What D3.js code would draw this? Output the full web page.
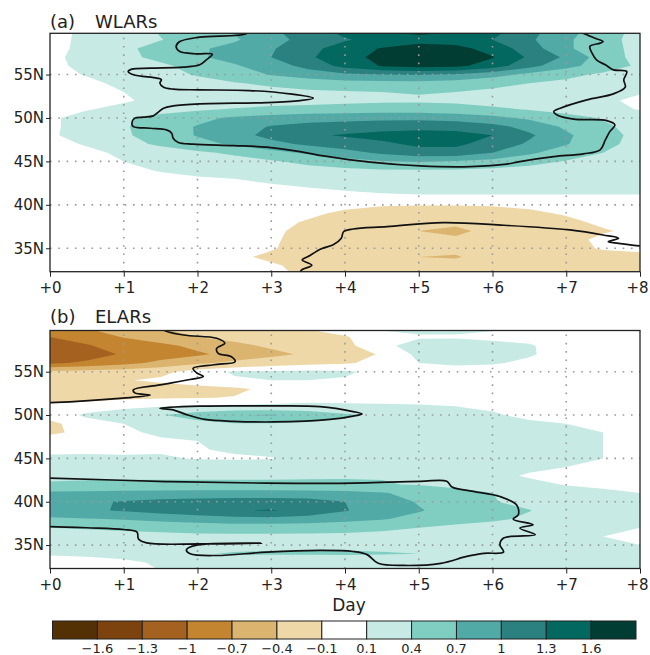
<!DOCTYPE html>
<html><head><meta charset="utf-8">
<script src="https://cdn.jsdelivr.net/npm/d3@7"></script>
<style>
body{margin:0;background:#fff;}
text{font-family:"DejaVu Sans",sans-serif;fill:#222;}
</style>
</head><body>
<svg id="c" width="650" height="655"></svg>
<script>
// ---------------- data ----------------
const days = [0,0.5,1,1.5,2,2.5,3,3.5,4,4.5,5,5.5,6,6.5,7,7.5,8];
const lats = [60,59,58,57,56,55,54,53,52,51,50,49,48,47,46,45,44,43,42,41,40,39,38,37,36,35,34,33,32];

// (a) WLARs composite anomaly, rows = lats, cols = days
const wlars = [
[0.02,0.15,0.28,0.42,0.55,0.72,0.95,1.15,1.4,1.6,1.68,1.62,1.4,1.1,0.8,0.55,0.3],
[0.02,0.16,0.28,0.39,0.52,0.66,0.9,1.1,1.27,1.42,1.5,1.45,1.3,1.05,0.75,0.5,0.3],
[0.02,0.17,0.33,0.52,0.65,0.8,0.97,1.2,1.45,1.62,1.72,1.7,1.48,1.15,0.75,0.5,0.32],
[0.02,0.22,0.33,0.47,0.66,0.8,1.0,1.25,1.5,1.68,1.78,1.75,1.62,1.25,0.95,0.55,0.3],
[0.02,0.18,0.25,0.35,0.5,0.67,0.85,1.1,1.4,1.62,1.7,1.68,1.45,1.1,0.8,0.55,0.35],
[0.0,0.12,0.22,0.32,0.42,0.55,0.72,0.85,0.95,1.0,1.02,0.97,0.82,0.62,0.48,0.35,0.25],
[0.0,0.03,0.17,0.25,0.32,0.38,0.45,0.52,0.58,0.6,0.6,0.55,0.48,0.4,0.33,0.27,0.2],
[0.0,0.02,0.1,0.2,0.26,0.3,0.33,0.36,0.38,0.4,0.42,0.4,0.35,0.3,0.25,0.18,0.12],
[0.0,0.02,0.07,0.17,0.22,0.26,0.28,0.3,0.33,0.35,0.36,0.35,0.3,0.26,0.2,0.14,0.05],
[0.0,0.08,0.18,0.28,0.36,0.42,0.47,0.5,0.53,0.55,0.55,0.5,0.45,0.38,0.3,0.2,0.08],
[0.05,0.22,0.36,0.5,0.62,0.75,0.82,0.88,0.9,0.92,0.92,0.88,0.78,0.65,0.5,0.38,0.3],
[0.05,0.22,0.37,0.55,0.72,0.88,1.02,1.1,1.15,1.2,1.22,1.2,1.1,0.9,0.65,0.45,0.3],
[0.06,0.22,0.36,0.53,0.72,0.9,1.08,1.25,1.33,1.38,1.42,1.4,1.3,1.05,0.75,0.5,0.32],
[0.03,0.12,0.3,0.45,0.6,0.75,0.92,1.05,1.15,1.25,1.35,1.35,1.2,0.95,0.72,0.48,0.3],
[0.0,0.05,0.14,0.25,0.35,0.45,0.6,0.75,0.9,1.05,1.2,1.2,1.0,0.75,0.55,0.4,0.3],
[0.0,0.02,0.1,0.17,0.24,0.3,0.37,0.47,0.57,0.68,0.72,0.68,0.6,0.5,0.38,0.3,0.25],
[0.0,0.0,0.04,0.12,0.18,0.22,0.27,0.31,0.35,0.38,0.39,0.38,0.35,0.3,0.26,0.23,0.2],
[0.0,0.0,0.0,0.03,0.07,0.1,0.14,0.18,0.22,0.24,0.25,0.24,0.22,0.21,0.2,0.2,0.2],
[0.0,0.0,0.0,0.0,0.02,0.04,0.07,0.1,0.13,0.16,0.18,0.18,0.18,0.18,0.18,0.18,0.18],
[0.0,0.0,0.0,0.0,0.0,0.0,0.0,0.02,0.05,0.07,0.08,0.08,0.08,0.08,0.08,0.08,0.08],
[0.0,0.0,0.0,0.0,0.0,0.0,0.0,-0.02,-0.05,-0.08,-0.09,-0.09,-0.08,-0.06,-0.04,-0.02,0.0],
[0,0,0,0,0,0,-0.02,-0.06,-0.14,-0.2,-0.24,-0.24,-0.2,-0.14,-0.08,-0.04,-0.02],
[0,0,0,0,0,0,-0.04,-0.12,-0.25,-0.32,-0.37,-0.37,-0.32,-0.24,-0.15,-0.06,-0.03],
[0,0,0,0,0,-0.02,-0.06,-0.16,-0.3,-0.36,-0.4,-0.43,-0.36,-0.28,-0.2,-0.12,-0.05],
[0,0,0,0,0,-0.02,-0.07,-0.18,-0.3,-0.35,-0.38,-0.38,-0.33,-0.25,-0.16,-0.06,-0.02],
[0,0,0,0,0,-0.03,-0.08,-0.2,-0.3,-0.35,-0.37,-0.37,-0.32,-0.25,-0.17,-0.08,-0.05],
[0,0,0,0,0,-0.05,-0.15,-0.25,-0.32,-0.36,-0.4,-0.41,-0.35,-0.28,-0.22,-0.18,-0.16],
[0,0,0,0,0,-0.02,-0.07,-0.17,-0.27,-0.32,-0.35,-0.35,-0.3,-0.25,-0.2,-0.15,-0.12],
[0,0,0,0,0,0,-0.05,-0.14,-0.24,-0.3,-0.33,-0.33,-0.28,-0.22,-0.17,-0.12,-0.1]
];

// (b) ELARs composite anomaly
const elars = [
[-0.75,-0.7,-0.55,-0.4,-0.28,-0.18,-0.14,-0.09,0.02,0.12,0.15,0.15,0.12,0.06,0.0,0.0,0.0],
[-1.0,-0.9,-0.68,-0.52,-0.4,-0.3,-0.22,-0.16,-0.12,0.04,0.08,0.08,0.06,0.03,0.0,0.0,0.0],
[-1.15,-1.02,-0.9,-0.78,-0.62,-0.48,-0.35,-0.25,-0.16,0.05,0.18,0.2,0.15,0.12,0.0,0.0,0.0],
[-1.2,-1.12,-0.97,-0.85,-0.75,-0.6,-0.48,-0.35,-0.2,-0.08,0.15,0.2,0.17,0.12,0.02,0.0,0.0],
[-1.05,-0.95,-0.8,-0.62,-0.45,-0.33,-0.22,-0.16,-0.12,-0.05,0.1,0.14,0.12,0.06,0.0,0.0,0.0],
[-0.35,-0.3,-0.25,-0.18,0.02,0.12,0.13,0.14,0.13,0.04,0.0,0.0,0.0,0.0,0.0,0.0,0.0],
[-0.3,-0.22,-0.12,-0.05,0.04,0.08,0.1,0.1,0.08,0.02,0,0,0,0,0,0,0],
[-0.35,-0.32,-0.28,-0.24,-0.2,-0.14,-0.05,-0.02,0,0,0,0,0,0,0,0,0],
[-0.2,-0.18,-0.14,-0.12,-0.11,-0.09,-0.04,0.03,0.03,0.03,0.03,0.02,0,0,0,0,0],
[-0.05,0.0,0.04,0.09,0.12,0.14,0.15,0.15,0.14,0.13,0.12,0.1,0.07,0.04,0.02,0.0,0.0],
[0.0,0.13,0.24,0.38,0.55,0.69,0.72,0.62,0.45,0.33,0.28,0.2,0.12,0.06,0.02,0.0,0.0],
[-0.16,0.03,0.1,0.18,0.3,0.38,0.38,0.35,0.3,0.25,0.22,0.18,0.15,0.13,0.1,0.05,0.02],
[-0.14,-0.04,0.05,0.15,0.25,0.32,0.35,0.35,0.33,0.28,0.25,0.22,0.18,0.15,0.12,0.1,0.05],
[0.0,0.02,0.04,0.06,0.1,0.15,0.2,0.22,0.22,0.2,0.2,0.18,0.16,0.14,0.12,0.1,0.05],
[0.05,0.06,0.06,0.08,0.09,0.12,0.15,0.18,0.2,0.2,0.2,0.18,0.16,0.14,0.12,0.1,0.05],
[0.14,0.14,0.13,0.12,0.09,0.08,0.09,0.15,0.2,0.22,0.22,0.2,0.18,0.15,0.12,0.1,0.04],
[0.18,0.2,0.2,0.2,0.2,0.2,0.22,0.25,0.28,0.3,0.3,0.27,0.2,0.14,0.1,0.05,0.02],
[0.3,0.32,0.33,0.33,0.33,0.33,0.33,0.35,0.37,0.38,0.35,0.25,0.15,0.08,0.05,0.04,0.04],
[0.45,0.47,0.48,0.48,0.48,0.48,0.48,0.47,0.45,0.42,0.38,0.32,0.22,0.15,0.09,0.08,0.08],
[0.75,0.76,0.78,0.79,0.8,0.8,0.8,0.8,0.78,0.72,0.62,0.5,0.4,0.28,0.17,0.12,0.1],
[0.92,0.95,1.02,1.08,1.12,1.15,1.15,1.12,1.0,0.82,0.68,0.55,0.42,0.3,0.2,0.15,0.12],
[0.9,0.95,1.03,1.12,1.2,1.28,1.32,1.2,1.02,0.85,0.72,0.6,0.5,0.41,0.25,0.15,0.12],
[0.65,0.68,0.72,0.78,0.85,0.9,0.92,0.88,0.8,0.72,0.62,0.52,0.45,0.35,0.2,0.15,0.12],
[0.4,0.42,0.45,0.48,0.5,0.52,0.52,0.5,0.48,0.45,0.4,0.33,0.27,0.2,0.15,0.12,0.1],
[0.28,0.3,0.32,0.33,0.35,0.35,0.35,0.35,0.35,0.33,0.3,0.26,0.22,0.18,0.14,0.1,0.05],
[0.22,0.22,0.25,0.27,0.3,0.32,0.34,0.35,0.35,0.33,0.3,0.26,0.22,0.18,0.15,0.12,0.1],
[0.12,0.13,0.15,0.2,0.38,0.42,0.43,0.43,0.43,0.42,0.4,0.32,0.25,0.2,0.16,0.13,0.1],
[0.02,0.04,0.07,0.12,0.15,0.17,0.18,0.19,0.2,0.2,0.2,0.18,0.17,0.15,0.13,0.12,0.1],
[0.0,0.02,0.05,0.1,0.13,0.15,0.16,0.17,0.18,0.18,0.18,0.17,0.16,0.14,0.13,0.12,0.1]
];

// significance contours, [day, lat]
const sigA1 = [[2.67,60.3],[2.67,59.77],[2.03,59.31],[1.76,58.8],[1.71,58.23],[1.76,57.65],[1.99,57.39],[2.2,57.35],[2.12,56.69],[2.03,56.12],[1.81,55.85],[1.36,55.73],[1.11,55.62],[1.06,55.35],[1.13,54.97],[1.45,54.59],[1.51,54.42],[1.49,54.01],[1.54,53.55],[1.67,53.32],[2.03,53.24],[2.71,53.16],[3.25,52.78],[3.57,52.28],[3.39,52.0],[2.94,51.77],[2.03,51.62],[1.67,51.39],[1.54,51.13],[1.45,50.55],[1.4,50.24],[1.27,50.09],[1.15,49.98],[1.11,49.4],[1.13,49.01],[1.36,48.82],[1.58,48.63],[1.65,48.25],[1.67,47.67],[1.74,47.17],[1.94,46.98],[2.49,46.82],[2.94,46.64],[3.39,46.13],[3.73,45.6],[4.34,44.91],[5.02,44.48],[5.7,44.4],[6.19,44.68],[6.37,44.98],[6.83,45.55],[7.23,45.86],[7.46,46.33],[7.53,47.48],[7.59,48.43],[7.66,49.2],[7.55,49.7],[7.1,49.86],[6.87,50.36],[6.83,50.74],[6.92,51.13],[7.28,52.09],[7.64,52.78],[7.8,53.55],[7.78,54.39],[7.82,55.35],[7.64,55.54],[7.53,56.12],[7.41,56.69],[7.35,57.46],[7.32,58.23],[7.46,58.62],[7.5,58.8],[7.39,59.19],[7.23,59.77],[7.1,60.3]];
const sigA2 = [[3.4,31.6],[3.4,32.4],[3.55,33.05],[3.42,33.65],[3.5,34.05],[3.68,34.95],[3.84,35.4],[3.95,36.15],[3.98,36.9],[4.11,37.22],[4.57,37.49],[5.33,37.95],[6.15,37.65],[7.05,37.11],[7.5,36.53],[7.71,36.15],[7.57,35.76],[7.71,35.57],[8.0,35.27],[8.3,35.2]];
const sigB1 = [[-0.2,51.38],[0,51.42],[0.99,51.95],[1.36,52.3],[1.15,52.55],[1.13,52.9],[1.49,53.47],[1.9,54.1],[2.08,54.45],[1.99,54.85],[1.94,55.39],[2.22,55.8],[2.51,56.15],[2.46,56.73],[2.28,57.12],[2.26,57.69],[2.37,58.27],[2.26,58.85],[1.81,59.23],[1.54,59.8],[1.5,60.3]];
const sigB2 = [[1.49,50.78],[1.67,50.6],[1.85,50.05],[2.1,49.5],[2.49,49.28],[3.03,49.2],[3.8,49.5],[4.11,49.88],[4.23,50.13],[4.11,50.4],[3.66,50.97],[2.94,51.05],[2.03,51.03]];
const sigB3 = [[-0.2,42.72],[0,42.72],[1.58,42.33],[2.94,42.14],[3.93,42.12],[5.02,42.35],[5.38,42.37],[5.45,41.7],[5.74,41.2],[6.1,40.6],[6.33,39.6],[6.35,38.5],[6.28,38.0],[6.55,37.35],[6.37,36.96],[6.58,36.2],[6.15,35.81],[6.1,35.04],[6.15,34.2],[5.88,34.05],[5.65,33.69],[5.3,32.9],[4.8,32.65],[4.45,32.9],[4.3,33.9],[4.11,34.26],[3.66,34.38],[2.94,34.19],[2.26,33.8],[1.9,34.0],[1.85,34.46],[1.99,35.0],[2.87,35.23],[2.03,35.13],[1.31,35.25],[1.2,35.7],[1.18,36.5],[1.0,36.8],[0.5,37.0],[0,37.14],[-0.2,37.15]];

const levels = [-1.6,-1.3,-1,-0.7,-0.4,-0.1,0.1,0.4,0.7,1,1.3,1.6];
const levelLabels = ["\u22121.6","\u22121.3","\u22121","\u22120.7","\u22120.4","\u22120.1","0.1","0.4","0.7","1","1.3","1.6"];
const colors = ["#543005","#7d430f","#a4611f","#c48530","#dbb56f","#eed8a7","#ffffff","#c7eae5","#80cdc1","#52aaa7","#2b8180","#03685f","#013d32"];
const dayTicks = [0,1,2,3,4,5,6,7,8];
const latTicks = [35,40,45,50,55];

// ---------------- drawing ----------------
const svg = d3.select("#c");
const X0 = 50, X1 = 640;
const latDomain = [32.3, 59.75];
const panels = [
  {values: wlars, sig: [sigA1, sigA2], closed: [false,false], top: 33.3, bottom: 271.7, tag: "(a)", name: "WLARs", titleY: 27.5},
  {values: elars, sig: [sigB1, sigB2, sigB3], closed: [false,true,false], top: 330.5, bottom: 568.5, tag: "(b)", name: "ELARs", titleY: 322.5}
];
const nx = days.length, ny = lats.length;
const dStep = days[1]-days[0], lStep = lats[0]-lats[1];
const posLevels = levels.filter(l => l > 0);

panels.forEach((p, k) => {
  const xs = d3.scaleLinear([0, 8], [X0, X1]);
  const ys = d3.scaleLinear(latDomain, [p.bottom, p.top]);
  const g = svg.append("g");
  const cid = "clip" + k;
  svg.append("clipPath").attr("id", cid).append("rect")
    .attr("x", X0).attr("y", p.top).attr("width", X1 - X0).attr("height", p.bottom - p.top);
  const field = g.append("g").attr("clip-path", `url(#${cid})`);

  const proj = d3.geoTransform({point(x, y) {
    this.stream.point(xs(days[0] + (x - 0.5) * dStep), ys(lats[0] - (y - 0.5) * lStep));
  }});
  const path = d3.geoPath(proj);
  const flat = p.values.flat();
  const neg = flat.map(v => -v);
  const gen = d3.contours().size([nx, ny]).thresholds(posLevels);
  gen(flat).forEach((c, i) => field.append("path").attr("d", path(c)).attr("fill", colors[7 + i]));
  gen(neg).forEach((c, i) => field.append("path").attr("d", path(c)).attr("fill", colors[5 - i]));

  // dotted grid
  const grid = g.append("g").attr("stroke", "#9a9a9a").attr("stroke-width", 1.6)
    .attr("stroke-dasharray", "1.6,6.7").attr("fill", "none");
  dayTicks.slice(1, -1).forEach(d => grid.append("line")
    .attr("x1", xs(d)).attr("x2", xs(d)).attr("y1", p.bottom).attr("y2", p.top));
  latTicks.forEach(l => grid.append("line")
    .attr("x1", X0).attr("x2", X1).attr("y1", ys(l)).attr("y2", ys(l)));

  // significance contours
  const sg = g.append("g").attr("clip-path", `url(#${cid})`);
  p.sig.forEach((pts, j) => {
    const line = d3.line().x(d => xs(d[0])).y(d => ys(d[1]))
      .curve(p.closed[j] ? d3.curveCatmullRomClosed.alpha(0.5) : d3.curveCatmullRom.alpha(0.5));
    sg.append("path").attr("d", line(pts)).attr("fill", "none")
      .attr("stroke", "#111").attr("stroke-width", 1.7).attr("stroke-linejoin", "round");
  });

  // frame
  g.append("rect").attr("x", X0).attr("y", p.top).attr("width", X1 - X0).attr("height", p.bottom - p.top)
    .attr("fill", "none").attr("stroke", "#222").attr("stroke-width", 1.3);

  // axes
  const xa = g.append("g").attr("transform", `translate(0,${p.bottom})`)
    .call(d3.axisBottom(xs).tickValues(dayTicks).tickFormat(d => "+" + d).tickSize(5).tickPadding(6).tickSizeOuter(0));
  const ya = g.append("g").attr("transform", `translate(${X0},0)`)
    .call(d3.axisLeft(ys).tickValues(latTicks).tickFormat(d => d + "N").tickSize(4).tickPadding(2).tickSizeOuter(0));
  [xa, ya].forEach(a => {
    a.select(".domain").remove();
    a.selectAll("line").attr("stroke", "#222");
    a.selectAll("text").attr("font-size", 15).attr("font-family", "DejaVu Sans").attr("fill", "#222");
  });
  xa.selectAll(".tick").filter(d => d === 8).select("text").attr("dx", -3);

  // title
  g.append("text").attr("x", 50).attr("y", p.titleY).attr("font-size", 18).text(p.tag);
  g.append("text").attr("x", 95).attr("y", p.titleY).attr("font-size", 18).text(p.name);
});

svg.append("text").attr("x", 349).attr("y", 611).attr("text-anchor", "middle")
  .attr("font-size", 17).text("Day");

// colour bar
const cb = d3.scaleLinear([0, colors.length], [52.5, 636]);
const cbg = svg.append("g");
colors.forEach((c, i) => cbg.append("rect")
  .attr("x", cb(i)).attr("y", 621).attr("width", cb(i + 1) - cb(i)).attr("height", 18)
  .attr("fill", c).attr("stroke", "#222").attr("stroke-width", 1));
levelLabels.forEach((t, i) => cbg.append("text")
  .attr("x", cb(i + 1)).attr("y", 653).attr("text-anchor", "middle").attr("font-size", 13).text(t));
</script>
</body></html>
